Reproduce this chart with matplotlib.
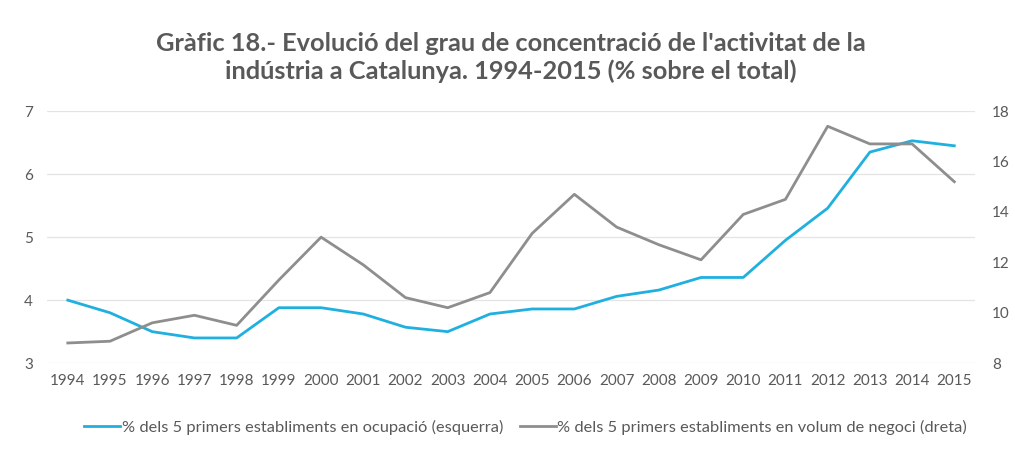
"""Grau de concentració de l'activitat industrial a Catalunya, 1994-2015.

Two series on twin y axes: share of the 5 largest establishments in
employment (left) and in turnover (right). Writes out.png.
"""

import matplotlib

matplotlib.use("Agg")
import matplotlib.pyplot as plt

YEARS = [str(y) for y in range(1994, 2016)]
OCUPACIO = [4.0, 3.8, 3.5, 3.4, 3.4, 3.88, 3.88, 3.78, 3.57, 3.5, 3.78,
            3.86, 3.86, 4.06, 4.16, 4.36, 4.36, 4.95, 5.46, 6.35, 6.53, 6.45]
NEGOCI = [8.8, 8.87, 9.6, 9.9, 9.5, 11.3, 13.0, 11.9, 10.6, 10.2, 10.8,
          13.15, 14.7, 13.4, 12.7, 12.1, 13.9, 14.5, 17.4, 16.7, 16.7, 15.2]
LEFT_TICKS = [3, 4, 5, 6, 7]
RIGHT_TICKS = [8, 10, 12, 14, 16, 18]

TITLE = ("Gràfic 18.- Evolució del grau de concentració de l'activitat de la\n"
         "indústria a Catalunya. 1994-2015 (% sobre el total)")
LABEL_OCUP = "% dels 5 primers establiments en ocupació (esquerra)"
LABEL_NEG = "% dels 5 primers establiments en volum de negoci (dreta)"

BLUE = "#1fb0e0"
GREY = "#8e8e8e"
TEXT = "#595959"

plt.rcParams["font.family"] = ["Lato", "DejaVu Sans"]

fig = plt.figure(figsize=(10.15, 4.5), dpi=100)
ax = fig.add_axes([0.046, 0.193, 0.915, 0.56])
ax2 = ax.twinx()

x = range(len(YEARS))
l1, = ax.plot(x, OCUPACIO, color=BLUE, lw=2.0, label=LABEL_OCUP, zorder=3)
l2, = ax2.plot(x, NEGOCI, color=GREY, lw=2.0, label=LABEL_NEG, zorder=2)

ax.set_xlim(-0.5, len(YEARS) - 0.5)
ax.set_ylim(3, 7)
ax2.set_ylim(8, 18)
ax.set_yticks(LEFT_TICKS)
ax2.set_yticks(RIGHT_TICKS)
ax.set_xticks(list(x), YEARS)

ax.grid(True, axis="y", color="#e4e4e4", lw=0.9)
ax.set_axisbelow(True)
for a in (ax, ax2):
    for s in a.spines.values():
        s.set_visible(False)
    a.tick_params(length=0, colors=TEXT, labelsize=11)
ax.tick_params(axis="y", pad=10)
ax2.tick_params(axis="y", pad=12)
ax.tick_params(axis="x", pad=8)

fig.text(0.503, 0.872, TITLE, ha="center", va="center", fontsize=18.3,
         fontweight="bold", color=TEXT, linespacing=1.25)

fig.legend(handles=[l1, l2], loc="center", bbox_to_anchor=(0.518, 0.05),
           ncols=2, frameon=False, fontsize=11.8, handlelength=2.2,
           handletextpad=0.1, columnspacing=1.0, labelcolor=TEXT)

fig.savefig("out.png", dpi=100, facecolor="white")
